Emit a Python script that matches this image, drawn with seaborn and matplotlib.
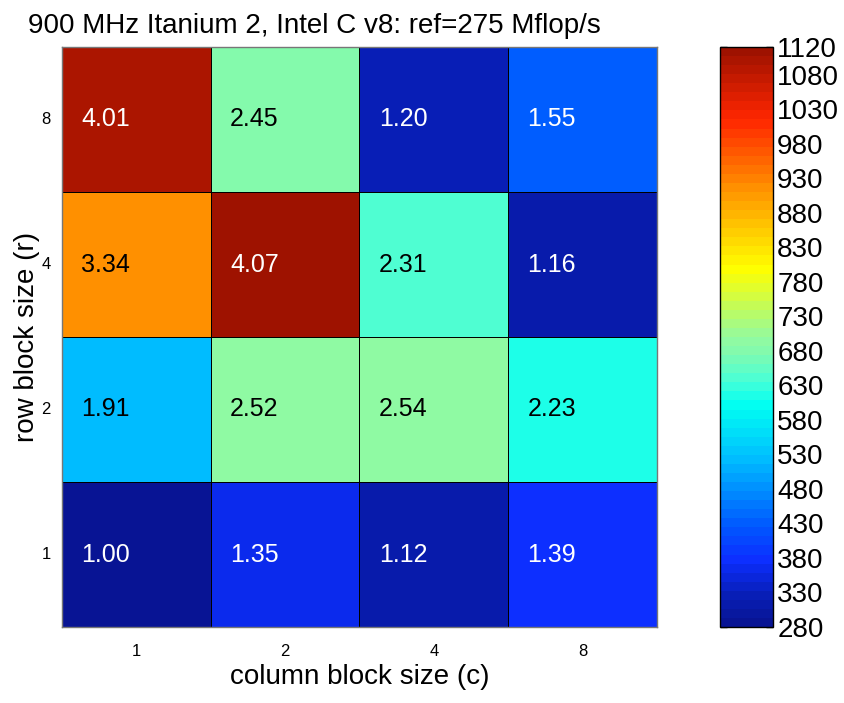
import numpy as np
import pandas as pd
import matplotlib
matplotlib.use("Agg")
import matplotlib.pyplot as plt
from matplotlib.colors import LinearSegmentedColormap
import seaborn as sns

# Data: speedup over reference, rows top to bottom
row_sizes = ["8", "4", "2", "1"]
col_sizes = ["1", "2", "4", "8"]
speedup = [
    [4.01, 2.45, 1.20, 1.55],
    [3.34, 4.07, 2.31, 1.16],
    [1.91, 2.52, 2.54, 2.23],
    [1.00, 1.35, 1.12, 1.39],
]
ref_mflops = 275
cbar_ticks = [280, 330, 380, 430, 480, 530, 580, 630, 680, 730, 780,
              830, 880, 930, 980, 1030, 1080, 1120]

sp = pd.DataFrame(speedup, index=row_sizes, columns=col_sizes)
mflops = sp * ref_mflops

# jet-like map matched to the reference rendering
jet_nodes = [
    (0.00, (0.03, 0.08, 0.58)),
    (0.05, (0.03, 0.12, 0.72)),
    (0.11, (0.05, 0.18, 1.00)),
    (0.17, (0.00, 0.35, 1.00)),
    (0.29, (0.00, 0.75, 1.00)),
    (0.38, (0.00, 1.00, 0.95)),
    (0.42, (0.27, 1.00, 0.85)),
    (0.47, (0.50, 0.98, 0.69)),
    (0.50, (0.58, 0.98, 0.62)),
    (0.62, (1.00, 1.00, 0.00)),
    (0.76, (1.00, 0.57, 0.00)),
    (0.88, (1.00, 0.15, 0.00)),
    (1.00, (0.62, 0.07, 0.00)),
]
cmap = LinearSegmentedColormap.from_list("mjet", jet_nodes, N=64)

sns.set_style("white")
plt.rcParams['font.family'] = ['Liberation Sans', 'DejaVu Sans']
plt.rcParams['text.color'] = 'black'
plt.rcParams['axes.labelcolor'] = 'black'
plt.rcParams['xtick.color'] = 'black'
plt.rcParams['ytick.color'] = 'black'

fig = plt.figure(figsize=(8.45, 7.03), dpi=100)
W, H = 845, 703
ax = fig.add_axes([62 / W, 1 - 627 / H, (657 - 62) / W, (627 - 47) / H])
cax = fig.add_axes([720 / W, 1 - 627 / H, (773 - 720) / W, (627 - 47) / H])

sns.heatmap(mflops, ax=ax, cbar_ax=cax, cmap=cmap,
            vmin=280, vmax=1120, linewidths=0.6, linecolor="black",
            annot=False)

# cell labels, left-ish in each cell
for i in range(len(row_sizes)):
    for j in range(len(col_sizes)):
        v = sp.iloc[i, j]
        color = "white" if (v < 1.6 or v > 3.9) else "black"
        ax.text(j + 0.13, i + 0.5, f"{v:.2f}", ha="left", va="center",
                fontsize=18, color=color)

for s in ax.spines.values():
    s.set_visible(True)
    s.set_color("#777777")
    s.set_linewidth(1)

ax.tick_params(axis="both", length=0, labelsize=12)
ax.tick_params(axis="x", pad=12)
ax.tick_params(axis="y", pad=8)
ax.set_yticklabels(row_sizes, rotation=0)
ax.set_xticklabels(col_sizes, rotation=0)
ax.set_xlabel("column block size (c)", fontsize=20, labelpad=4)
ax.set_ylabel("row block size (r)", fontsize=20, labelpad=1)
ax.set_title("900 MHz Itanium 2, Intel C v8: ref=275 Mflop/s",
             fontsize=20, x=0.425, pad=10)

cbar = ax.collections[0].colorbar
cbar.set_ticks(cbar_ticks)
cbar.set_ticklabels([str(t) for t in cbar_ticks])
cbar.ax.tick_params(direction="in", left=True, right=True, length=5,
                    labelsize=20, pad=3, width=1)
cbar.outline.set_visible(True)
cbar.outline.set_edgecolor("black")
cbar.outline.set_linewidth(1)

fig.savefig("out.png", dpi=100)
